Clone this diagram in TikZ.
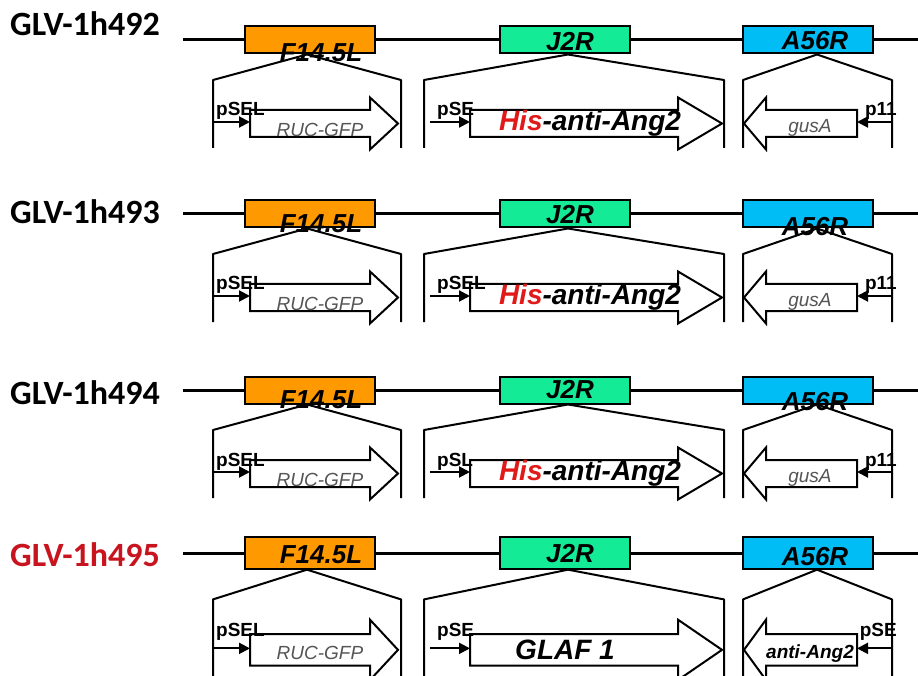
\documentclass[tikz,border=0pt]{standalone}
\usepackage{fontspec}
\setmainfont{Liberation Sans}
\newfontfamily\calfont{Carlito}
\usetikzlibrary{arrows.meta,calc}
\definecolor{orangebox}{RGB}{255,153,0}
\definecolor{greenbox}{RGB}{20,235,150}
\definecolor{cyanbox}{RGB}{0,190,245}
\definecolor{tagred}{RGB}{225,25,25}
\definecolor{namered}{RGB}{200,20,30}
\definecolor{genegray}{RGB}{85,85,85}

\begin{document}
\begin{tikzpicture}[x=1pt, y=-1pt,
  backbone/.style={line width=3pt},
  locus/.style={draw, line width=2pt, minimum width=130pt, inner sep=0pt},
  locuslabel/.style={font=\fontsize{26}{26}\selectfont\bfseries\itshape, inner sep=0pt},
  bracket/.style={line width=2pt, line join=round},
  cassette/.style={draw, line width=2pt, fill=white},
  promoter/.style={line width=2pt, -{Triangle[length=11pt, width=11pt]}},
  plabel/.style={font=\fontsize{19}{19}\selectfont\bfseries, inner sep=0pt},
  reporter/.style={font=\fontsize{19}{19}\selectfont\itshape, inner sep=0pt},
  payload/.style={font=\fontsize{28}{28}\selectfont\bfseries\itshape, inner sep=0pt},
  strain/.style={font=\calfont\fontsize{34}{34}\selectfont\bfseries, anchor=west, inner sep=0pt},
]
\useasboundingbox (0,0) rectangle (918,676);

% one row per strain: backbone, three loci, three inserts
\foreach \n/\yb/\sy/\yt/\colr/\strainname/\proma/\promb/\promc/\fsh/\jsh/\ash/\gx/\gb/\gc/\tsh/\plo in {
  1/40/1/24/black/GLV-1h492/pSEL/pSE/p11/13/2/1/590/{\textcolor{tagred}{His}-anti-Ang2}/{\color{genegray}gusA}/6/6,
  2/214/1/212/black/GLV-1h493/pSEL/pSEL/p11/10/1/13/590/{\textcolor{tagred}{His}-anti-Ang2}/{\color{genegray}gusA}/6/6,
  3/390/1/393/black/GLV-1h494/pSEL/pSL/p11/10/0/12/590/{\textcolor{tagred}{His}-anti-Ang2}/{\color{genegray}gusA}/6/6,
  4/553/1.16/555/namered/GLV-1h495/pSEL/pSE/pSE/2/1/4/565/{GLAF 1}/{\bfseries anti-Ang2}/3/12}
{
  \pgfmathsetmacro\bh{27*\sy}
  \pgfmathsetmacro\kt{\yb+40*\sy}
  \pgfmathsetmacro\ke{\yb+108*\sy}
  \pgfmathsetmacro\ac{\yb+83.5*\sy}
  \pgfmathsetmacro\sh{13.5*\sy}
  \pgfmathsetmacro\hh{26*\sy}
  \pgfmathsetmacro\pr{\ac-1.5}

  \node[strain, text=\colr] (t\n) at (10,\yt) {\strainname};
  \draw[backbone] (183,\yb) -- (918,\yb);

  \node[locus, fill=orangebox, minimum height=\bh pt] (f\n) at (310,\yb) {};
  \node[locus, fill=greenbox, minimum height=\bh pt] (j\n) at (565,\yb) {};
  \node[locus, fill=cyanbox, minimum height=\bh pt] (a\n) at (807.5,\yb) {};
  \node[locuslabel] (fl\n) at (321,\yb+\fsh) {F14.5L};
  \node[locuslabel] (jl\n) at (570,\yb+\jsh) {J2R};
  \node[locuslabel] (al\n) at (815,\yb+\ash) {A56R};

  \draw[bracket] (213,\ke) -- (213,\kt) -- ($(f\n.south)+(-3,0)$) -- (401,\kt) -- (401,\ke);
  \draw[bracket] (424,\ke) -- (424,\kt) -- ($(j\n.south)+(3,0)$) -- (724,\kt) -- (724,\ke);
  \draw[bracket] (743,\ke) -- (743,\kt) -- ($(a\n.south)+(9.5,0)$) -- (892,\kt) -- (892,\ke);

  % gene cassettes
  \draw[cassette] (250,\ac-\sh) -- (370,\ac-\sh) -- (370,\ac-\hh) -- (398,\ac)
    -- (370,\ac+\hh) -- (370,\ac+\sh) -- (250,\ac+\sh) -- cycle;
  \draw[cassette] (470,\ac-\sh) -- (678,\ac-\sh) -- (678,\ac-\hh) -- (722,\ac)
    -- (678,\ac+\hh) -- (678,\ac+\sh) -- (470,\ac+\sh) -- cycle;
  \draw[cassette] (857,\ac-\sh) -- (766,\ac-\sh) -- (766,\ac-\hh) -- (744,\ac)
    -- (766,\ac+\hh) -- (766,\ac+\sh) -- (857,\ac+\sh) -- cycle;

  % promoters
  \coordinate (ps\n) at (213,\pr);
  \coordinate (rs\n) at (250,\pr);
  \coordinate (pm\n) at (430,\pr);
  \coordinate (rm\n) at (470,\pr);
  \coordinate (pe\n) at (892,\pr);
  \coordinate (re\n) at (857,\pr);
  \draw[promoter] (ps\n) -- (rs\n);
  \draw[promoter] (pm\n) -- (rm\n);
  \draw[promoter] (pe\n) -- (re\n);
  \node[plabel, anchor=base west] (psl\n) at (216,\pr-\plo) {\proma};
  \node[plabel, anchor=base west] (pml\n) at (437,\pr-\plo) {\promb};
  \node[plabel, anchor=base east] (pel\n) at (897,\pr-\plo) {\promc};

  \node[reporter, text=genegray] (ga\n) at (320,\ac+\tsh) {RUC-GFP};
  \node[payload] (gb\n) at (\gx,\ac) {\gb};
  \node[reporter] (gc\n) at (810,\ac+4) {\gc};
}
\end{tikzpicture}
\end{document}
